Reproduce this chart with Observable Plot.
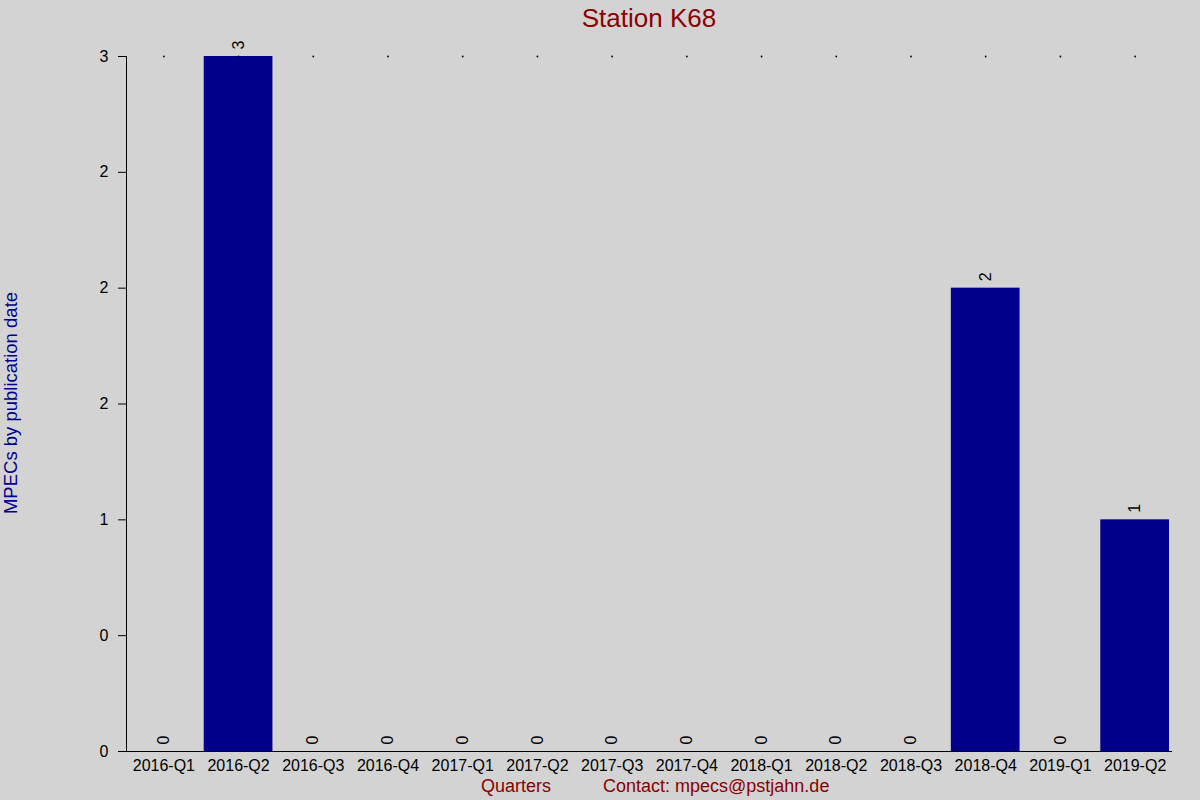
<!DOCTYPE html>
<html>
<head>
<meta charset="utf-8">
<script src="https://cdn.jsdelivr.net/npm/d3@7"></script>
<script src="https://cdn.jsdelivr.net/npm/@observablehq/plot@0.6"></script>
<style>
  body { margin: 0; background: #d3d3d3; font-family: "Liberation Sans", Arial, sans-serif; }
  #wrap { position: relative; width: 1200px; height: 800px; overflow: hidden; }
  .t { position: absolute; white-space: nowrap; line-height: 1; }
  #title { left: 649px; top: 5px; transform: translateX(-50%); font-size: 26px; color: #8b0000; }
  #xlab { left: 516px; top: 777px; transform: translateX(-50%); font-size: 18px; color: #8b0000; }
  #contact { left: 603px; top: 777px; font-size: 18px; color: #8b0000; }
  #ylab { left: 11px; top: 403px; transform: translate(-50%, -50%) rotate(-90deg); font-size: 18.5px; color: #00008b; }
</style>
</head>
<body>
<div id="wrap">
  <div id="chart"></div>
  <div class="t" id="title">Station K68</div>
  <div class="t" id="xlab">Quarters</div>
  <div class="t" id="contact">Contact: mpecs@pstjahn.de</div>
  <div class="t" id="ylab">MPECs by publication date</div>
</div>
<script>
const quarters = ["2016-Q1","2016-Q2","2016-Q3","2016-Q4","2017-Q1","2017-Q2","2017-Q3","2017-Q4","2018-Q1","2018-Q2","2018-Q3","2018-Q4","2019-Q1","2019-Q2"];
const counts = [0,3,0,0,0,0,0,0,0,0,0,2,0,1];
const yTickValues = [0,0.5,1,1.5,2,2.5,3];
const yTickLabels = ["0","0","1","2","2","2","3"];

const table = quarters.map((q, i) => ({q, v: counts[i]}));
const yMax = d3.max(counts);

const chart = Plot.plot({
  width: 1200,
  height: 800,
  marginTop: 56,
  marginBottom: 49,
  marginLeft: 126,
  marginRight: 28,
  style: { background: "transparent", fontFamily: "'Liberation Sans', Arial, sans-serif", fontSize: "16px", color: "black" },
  x: { domain: quarters, padding: 0, round: false, label: null },
  y: { domain: [0, yMax], label: null },
  marks: [
    Plot.barY(table, { x: "q", y: "v", fill: "#00008b", insetLeft: 3, insetRight: 3 }),
    Plot.dot(quarters, { x: d => d, y: () => yMax, r: 0.9, fill: "black", stroke: null }),
    Plot.text(table, { x: "q", y: "v", text: d => String(d.v), rotate: -90, textAnchor: "start", dy: -7, fontSize: 16, fill: "black" }),
    Plot.axisX({ tickSize: 0, tickPadding: 8, label: null, fontSize: 16 }),
    Plot.axisY({ ticks: yTickValues, tickFormat: d => yTickLabels[yTickValues.indexOf(d)], tickSize: 8, tickPadding: 10, label: null, fontSize: 16 }),
    Plot.ruleY([0]),
    Plot.frame({ anchor: "left" })
  ]
});
document.getElementById("chart").appendChild(chart);
</script>
</body>
</html>
